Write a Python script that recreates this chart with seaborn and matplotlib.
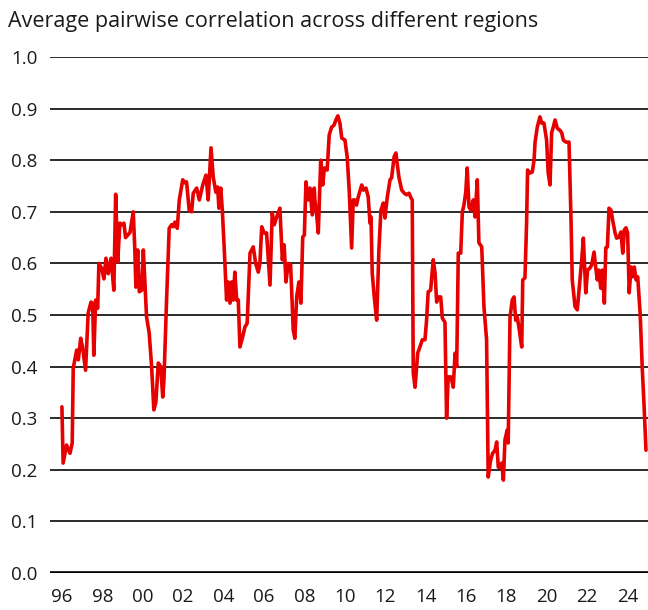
import pandas as pd
import seaborn as sns
import matplotlib.pyplot as plt

# average pairwise correlation, fractional year vs value
years = [
    1996.00, 1996.06, 1996.23, 1996.40, 1996.51, 1996.56, 1996.73, 1996.81, 1996.93, 1997.02,
    1997.17, 1997.30, 1997.44, 1997.52, 1997.58, 1997.67, 1997.77, 1997.83, 1997.97, 1998.08,
    1998.18, 1998.29, 1998.43, 1998.57, 1998.66, 1998.76, 1998.87, 1998.96, 1999.07, 1999.15,
    1999.37, 1999.53, 1999.61, 1999.66, 1999.75, 1999.83, 1999.95, 2000.03, 2000.19, 2000.32,
    2000.44, 2000.55, 2000.65, 2000.77, 2000.89, 2000.99, 2001.05, 2001.18, 2001.31, 2001.43,
    2001.51, 2001.59, 2001.71, 2001.81, 2001.98, 2002.09, 2002.17, 2002.30, 2002.42, 2002.50,
    2002.67, 2002.80, 2002.97, 2003.13, 2003.24, 2003.38, 2003.49, 2003.62, 2003.71, 2003.77,
    2003.86, 2003.94, 2004.03, 2004.15, 2004.23, 2004.32, 2004.40, 2004.48, 2004.56, 2004.65,
    2004.73, 2004.81, 2004.93, 2005.06, 2005.17, 2005.31, 2005.47, 2005.59, 2005.72, 2005.80,
    2005.89, 2006.01, 2006.13, 2006.30, 2006.41, 2006.51, 2006.63, 2006.79, 2006.91, 2007.00,
    2007.09, 2007.20, 2007.32, 2007.45, 2007.53, 2007.62, 2007.73, 2007.83, 2007.92, 2008.00,
    2008.08, 2008.19, 2008.28, 2008.39, 2008.49, 2008.52, 2008.61, 2008.69, 2008.81, 2008.91,
    2008.99, 2009.13, 2009.23, 2009.35, 2009.47, 2009.56, 2009.66, 2009.76, 2009.85, 2010.01,
    2010.12, 2010.22, 2010.34, 2010.42, 2010.50, 2010.58, 2010.67, 2010.84, 2010.92, 2011.05,
    2011.16, 2011.25, 2011.30, 2011.36, 2011.46, 2011.58, 2011.69, 2011.79, 2011.91, 2011.99,
    2012.10, 2012.24, 2012.32, 2012.44, 2012.53, 2012.68, 2012.82, 2012.95, 2013.06, 2013.18,
    2013.28, 2013.34, 2013.39, 2013.48, 2013.61, 2013.72, 2013.84, 2013.97, 2014.05, 2014.13,
    2014.25, 2014.38, 2014.47, 2014.55, 2014.63, 2014.75, 2014.83, 2014.96, 2015.04, 2015.12,
    2015.26, 2015.37, 2015.46, 2015.54, 2015.62, 2015.74, 2015.82, 2015.90, 2015.99, 2016.06,
    2016.15, 2016.25, 2016.36, 2016.45, 2016.56, 2016.64, 2016.78, 2016.89, 2017.02, 2017.10,
    2017.22, 2017.32, 2017.44, 2017.52, 2017.60, 2017.68, 2017.77, 2017.85, 2017.93, 2018.04,
    2018.09, 2018.18, 2018.29, 2018.38, 2018.46, 2018.54, 2018.64, 2018.76, 2018.81, 2018.92,
    2019.00, 2019.05, 2019.17, 2019.28, 2019.37, 2019.42, 2019.53, 2019.66, 2019.75, 2019.86,
    2019.99, 2020.07, 2020.16, 2020.24, 2020.32, 2020.41, 2020.52, 2020.65, 2020.74, 2020.82,
    2020.95, 2021.10, 2021.20, 2021.26, 2021.40, 2021.51, 2021.61, 2021.73, 2021.81, 2021.93,
    2022.02, 2022.14, 2022.22, 2022.34, 2022.42, 2022.50, 2022.58, 2022.67, 2022.75, 2022.85,
    2022.92, 2023.00, 2023.08, 2023.18, 2023.26, 2023.38, 2023.46, 2023.57, 2023.67, 2023.76,
    2023.84, 2023.92, 2024.00, 2024.08, 2024.17, 2024.25, 2024.33, 2024.42, 2024.50, 2024.62,
    2024.73, 2024.81, 2024.91,
]
corr = [
    0.322, 0.213, 0.248, 0.232, 0.252, 0.397, 0.432, 0.413, 0.455, 0.438,
    0.393, 0.504, 0.525, 0.523, 0.422, 0.529, 0.513, 0.600, 0.590, 0.570,
    0.610, 0.580, 0.610, 0.548, 0.734, 0.603, 0.678, 0.675, 0.678, 0.650,
    0.660, 0.700, 0.626, 0.554, 0.626, 0.545, 0.548, 0.626, 0.496, 0.465,
    0.400, 0.316, 0.331, 0.407, 0.400, 0.341, 0.374, 0.529, 0.668, 0.675,
    0.671, 0.680, 0.668, 0.723, 0.762, 0.756, 0.758, 0.703, 0.700, 0.736,
    0.746, 0.723, 0.752, 0.771, 0.723, 0.824, 0.767, 0.738, 0.748, 0.707,
    0.746, 0.703, 0.632, 0.529, 0.564, 0.523, 0.564, 0.529, 0.583, 0.529,
    0.529, 0.438, 0.455, 0.477, 0.484, 0.620, 0.632, 0.600, 0.583, 0.600,
    0.671, 0.659, 0.659, 0.558, 0.698, 0.675, 0.690, 0.707, 0.607, 0.636,
    0.564, 0.600, 0.597, 0.471, 0.455, 0.535, 0.564, 0.523, 0.651, 0.655,
    0.758, 0.723, 0.746, 0.694, 0.746, 0.723, 0.694, 0.659, 0.800, 0.752,
    0.785, 0.781, 0.849, 0.864, 0.868, 0.878, 0.886, 0.872, 0.843, 0.839,
    0.806, 0.742, 0.630, 0.723, 0.723, 0.713, 0.729, 0.752, 0.742, 0.746,
    0.729, 0.678, 0.690, 0.581, 0.535, 0.490, 0.626, 0.703, 0.717, 0.688,
    0.727, 0.762, 0.766, 0.806, 0.814, 0.767, 0.742, 0.736, 0.733, 0.736,
    0.727, 0.723, 0.388, 0.360, 0.426, 0.438, 0.452, 0.452, 0.490, 0.545,
    0.548, 0.607, 0.581, 0.525, 0.535, 0.535, 0.494, 0.486, 0.300, 0.380,
    0.380, 0.360, 0.426, 0.400, 0.620, 0.620, 0.700, 0.713, 0.738, 0.785,
    0.709, 0.703, 0.723, 0.690, 0.762, 0.640, 0.632, 0.516, 0.452, 0.186,
    0.219, 0.232, 0.238, 0.254, 0.205, 0.205, 0.213, 0.180, 0.258, 0.277,
    0.252, 0.496, 0.529, 0.535, 0.490, 0.496, 0.471, 0.438, 0.568, 0.572,
    0.678, 0.781, 0.775, 0.777, 0.800, 0.835, 0.864, 0.884, 0.872, 0.872,
    0.839, 0.775, 0.752, 0.853, 0.864, 0.878, 0.862, 0.858, 0.853, 0.839,
    0.835, 0.835, 0.684, 0.568, 0.516, 0.510, 0.554, 0.607, 0.649, 0.543,
    0.587, 0.591, 0.597, 0.622, 0.593, 0.568, 0.587, 0.552, 0.587, 0.523,
    0.630, 0.632, 0.707, 0.703, 0.684, 0.659, 0.649, 0.651, 0.661, 0.620,
    0.665, 0.669, 0.659, 0.543, 0.593, 0.574, 0.593, 0.568, 0.574, 0.504,
    0.393, 0.329, 0.238,
]
xtick_years = list(range(1996, 2025, 2))
xtick_labels = [f"{y % 100:02d}" for y in xtick_years]
ytick_values = [i / 10 for i in range(11)]

df = pd.DataFrame({"year": years, "corr": corr})

sns.set_style("white")
plt.rcParams["font.family"] = ["Open Sans", "DejaVu Sans"]

fig = plt.figure(figsize=(6.48, 6.10), dpi=100)
ax = fig.add_axes([50 / 648, 37 / 610, 598 / 648, 516 / 610])

for v in ytick_values[1:]:
    ax.axhline(v, color="#1a1a1a", lw=1.3, zorder=1)
ax.axhline(0, color="black", lw=2.6, zorder=1)

sns.lineplot(data=df, x="year", y="corr", ax=ax, color="#e60000", lw=2.6,
             estimator=None, sort=False, zorder=3)

ax.set_xlim(1995.41, 2025.01)
ax.set_ylim(0, 1.0)
ax.set_xticks(xtick_years)
ax.set_xticklabels(xtick_labels)
ax.set_yticks(ytick_values)
ax.set_yticklabels([f"{v:.1f}" for v in ytick_values])
ax.tick_params(axis="both", length=0, labelsize=13.5, colors="#1a1a1a")
ax.tick_params(axis="y", pad=9)
ax.tick_params(axis="x", pad=11)
ax.set_xlabel("")
ax.set_ylabel("")
for s in ax.spines.values():
    s.set_visible(False)

fig.text(8 / 648, 1 - 21 / 610, "Average pairwise correlation across different regions",
         fontsize=15.5, color="#1a1a1a", ha="left", va="center")

fig.savefig("out.png", dpi=100)
